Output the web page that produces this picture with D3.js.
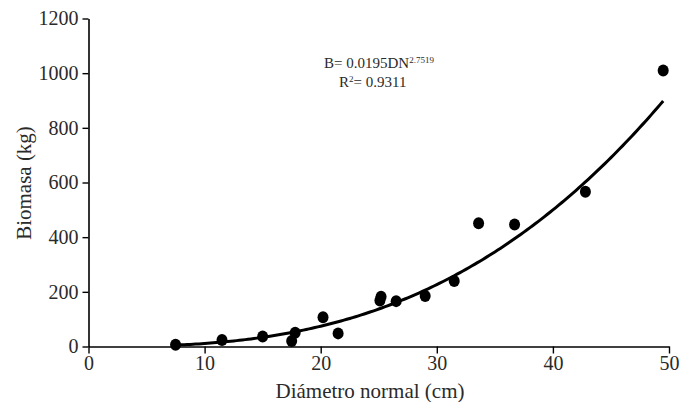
<!DOCTYPE html>
<html>
<head>
<meta charset="utf-8">
<script src="https://cdn.jsdelivr.net/npm/d3@7"></script>
<style>
  body { margin: 0; background: #fff; }
</style>
</head>
<body>
<div id="app"></div>
<script>
// diametro normal (cm) vs biomasa (kg)
const diametro = [7.5, 11.5, 15.0, 17.5, 17.8, 20.2, 21.5, 25.1, 25.2, 26.5, 29.0, 31.5, 33.6, 36.7, 42.8, 49.5];
const biomasa = [6, 24, 37, 20, 50, 107, 48, 168, 182, 166, 185, 240, 451, 446, 566, 1010];
const xTicks = [0, 10, 20, 30, 40, 50];
const yTicks = [0, 200, 400, 600, 800, 1000, 1200];
const coefA = 0.0195, coefB = 2.7519;

const width = 695, height = 402;
const margin = { left: 88.5, right: 26, top: 18.5, bottom: 55.5 };
const FONT = "'Liberation Serif'";
const INK = "#2a2a2a";

const svg = d3.select("#app").append("svg").attr("width", width).attr("height", height);

const x = d3.scaleLinear().domain([0, 50]).range([margin.left, width - margin.right]);
const y = d3.scaleLinear().domain([0, 1200]).range([height - margin.bottom, margin.top]);

// AXES
const xAxis = svg.append("g")
  .attr("transform", `translate(0,${y(0)})`)
  .call(d3.axisBottom(x).tickValues(xTicks).tickFormat(d3.format("d")).tickSize(7).tickPadding(2).tickSizeOuter(0));
const yAxis = svg.append("g")
  .attr("transform", `translate(${x(0)},0)`)
  .call(d3.axisLeft(y).tickValues(yTicks).tickFormat(d3.format("d")).tickSize(6).tickPadding(4).tickSizeOuter(0));

[xAxis, yAxis].forEach(g => {
  g.attr("font-family", FONT);
  g.select(".domain").attr("stroke", "#000").attr("stroke-width", 1.6);
  g.selectAll(".tick line").attr("stroke", "#000").attr("stroke-width", 1.4);
  g.selectAll(".tick text").attr("font-size", 20).attr("fill", INK).style("font-family", FONT);
});

// CURVE
const curveX = d3.range(diametro[0], diametro[diametro.length - 1] + 0.001, 0.25);
const line = d3.line().x(d => x(d)).y(d => y(coefA * Math.pow(d, coefB)));
svg.append("path")
  .datum(curveX)
  .attr("d", line)
  .attr("fill", "none")
  .attr("stroke", "#000")
  .attr("stroke-width", 3);

// POINTS
svg.append("g")
  .selectAll("ellipse")
  .data(diametro.map((d, i) => [d, biomasa[i]]))
  .join("ellipse")
  .attr("cx", d => x(d[0]))
  .attr("cy", d => y(d[1]))
  .attr("rx", 5.5)
  .attr("ry", 6)
  .attr("fill", "#000");

// EQUATION
const eq = svg.append("text").attr("x", 324).attr("y", 68).attr("font-size", 15)
  .attr("fill", INK).style("font-family", FONT);
eq.append("tspan").text("B= 0.0195DN");
eq.append("tspan").attr("dy", -5).attr("font-size", 9).text("2.7519");
const r2 = svg.append("text").attr("x", 339).attr("y", 87).attr("font-size", 15)
  .attr("fill", INK).style("font-family", FONT);
r2.append("tspan").text("R");
r2.append("tspan").attr("dy", -5).attr("font-size", 9).text("2");
r2.append("tspan").attr("dy", 5).text("= 0.9311");

// AXIS LABELS
svg.append("text")
  .attr("x", 370).attr("y", 398)
  .attr("text-anchor", "middle")
  .attr("font-size", 21)
  .attr("fill", INK).style("font-family", FONT)
  .text("Diámetro normal (cm)");
svg.append("text")
  .attr("transform", `translate(31,183) rotate(-90)`)
  .attr("text-anchor", "middle")
  .attr("font-size", 21)
  .attr("fill", INK).style("font-family", FONT)
  .text("Biomasa (kg)");
</script>
</body>
</html>
